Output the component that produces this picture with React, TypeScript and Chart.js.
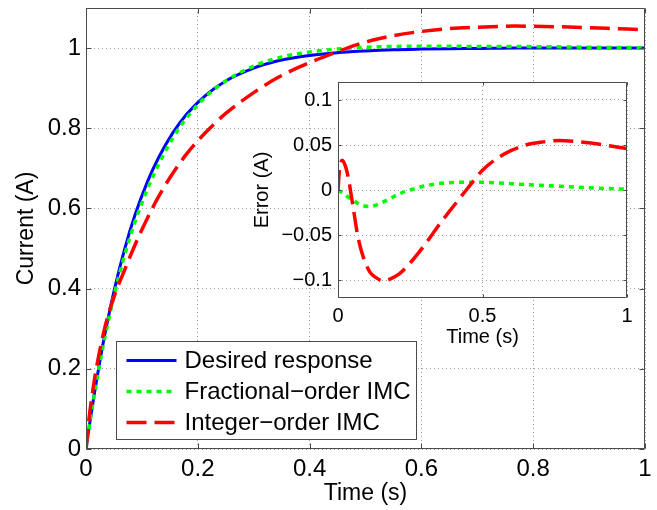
import React, { useEffect, useRef } from 'react';
import { Chart, registerables } from 'chart.js';

Chart.register(...registerables);

// ---- data ----
const time = [0, 0.005, 0.015, 0.025, 0.035, 0.052, 0.069, 0.087, 0.11, 0.13, 0.155, 0.18, 0.213, 0.25, 0.3, 0.34, 0.38, 0.444, 0.5, 0.55, 0.6, 0.65, 0.7, 0.767, 0.8, 0.85, 0.9, 0.95, 1];
const desiredResponse = [0, 0.049, 0.139, 0.221, 0.295, 0.405, 0.498, 0.581, 0.667, 0.727, 0.788, 0.835, 0.881, 0.918, 0.95, 0.967, 0.978, 0.988, 0.993, 0.996, 0.9975, 0.9985, 0.999, 1, 1, 1, 1, 1, 1];
const fractionalResponse = [0, 0.048, 0.136, 0.216, 0.287, 0.394, 0.483, 0.564, 0.649, 0.71, 0.775, 0.826, 0.877, 0.918, 0.955, 0.974, 0.986, 0.997, 1.002, 1.004, 1.0045, 1.0045, 1.004, 1.004, 1.0036, 1.003, 1.002, 1.0014, 1.001];
const integerResponse = [0, 0.071, 0.172, 0.248, 0.31, 0.387, 0.446, 0.507, 0.576, 0.63, 0.687, 0.736, 0.788, 0.837, 0.889, 0.924, 0.952, 0.988, 1.015, 1.031, 1.0415, 1.0485, 1.052, 1.055, 1.0545, 1.053, 1.051, 1.0485, 1.046];
const fractionalError = [0, -0.001, -0.003, -0.005, -0.008, -0.011, -0.015, -0.0175, -0.0185, -0.017, -0.0135, -0.0095, -0.004, 0, 0.0045, 0.0068, 0.008, 0.0087, 0.0085, 0.0078, 0.007, 0.006, 0.0052, 0.0042, 0.0036, 0.0028, 0.002, 0.0014, 0.001];
const integerError = [0, 0.022, 0.033, 0.027, 0.0148, -0.0185, -0.052, -0.074, -0.091, -0.097, -0.101, -0.099, -0.093, -0.081, -0.061, -0.043, -0.026, 0, 0.022, 0.035, 0.044, 0.05, 0.053, 0.055, 0.0545, 0.053, 0.051, 0.0485, 0.046];

const seriesLabels = ['Desired response', 'Fractional\u2212order IMC', 'Integer\u2212order IMC'];

const mainXTicks = [0, 0.2, 0.4, 0.6, 0.8, 1];
const mainYTicks = [0, 0.2, 0.4, 0.6, 0.8, 1];
const insetXTicks = [0, 0.5, 1];
const insetYTicks = [-0.1, -0.05, 0, 0.05, 0.1];

const mainXTitle = 'Time (s)';
const mainYTitle = 'Current (A)';
const insetXTitle = 'Time (s)';
const insetYTitle = 'Error (A)';

// ---- styles ----
const FONT = "'Liberation Sans', Arial, Helvetica, sans-serif";
const FRAME = '#4a4a4a';
const GRID = '#a0a0a0';
const BLUE = '#0000ff';
const GREEN = '#00ff00';
const RED = '#ff0000';
const GREEN_DASH = [5, 5];
const RED_DASH = [20, 8];

const fmt = (v: number) => String(v).replace('-', '\u2212');

function pts(xs: number[], ys: number[]) {
  return xs.map((x, i) => ({ x, y: ys[i] }));
}

function framePlugin(tickLen: number, fillWhite: boolean) {
  return {
    id: 'frame' + tickLen,
    beforeDraw(chart: any) {
      if (!fillWhite) return;
      const { ctx, chartArea: a } = chart;
      ctx.save();
      ctx.fillStyle = '#ffffff';
      ctx.fillRect(a.left, a.top, a.right - a.left, a.bottom - a.top);
      ctx.restore();
    },
    afterDraw(chart: any) {
      const { ctx, chartArea: a, scales } = chart;
      ctx.save();
      ctx.strokeStyle = FRAME;
      ctx.lineWidth = 1;
      ctx.setLineDash([]);
      const L = Math.round(a.left) + 0.5;
      const R = Math.round(a.right) - 0.5;
      const T = Math.round(a.top) + 0.5;
      const B = Math.round(a.bottom) - 0.5;
      ctx.beginPath();
      ctx.rect(L, T, R - L, B - T);
      scales.x.ticks.forEach((t: any) => {
        const p = Math.round(scales.x.getPixelForValue(t.value)) + 0.5;
        ctx.moveTo(p, B); ctx.lineTo(p, B - tickLen);
        ctx.moveTo(p, T); ctx.lineTo(p, T + tickLen);
      });
      scales.y.ticks.forEach((t: any) => {
        const p = Math.round(scales.y.getPixelForValue(t.value)) + 0.5;
        ctx.moveTo(L, p); ctx.lineTo(L + tickLen, p);
        ctx.moveTo(R, p); ctx.lineTo(R - tickLen, p);
      });
      ctx.stroke();
      ctx.restore();
    },
  };
}

const legendPlugin = {
  id: 'insideLegend',
  afterDraw(chart: any) {
    const { ctx, chartArea: a } = chart;
    const ds = chart.data.datasets;
    ctx.save();
    ctx.font = `24px ${FONT}`;
    const maxW = Math.max(...ds.map((d: any) => ctx.measureText(d.label).width));
    const w = Math.round(68 + maxW + 6);
    const h = 98;
    const x0 = Math.round(a.left + 30) + 0.5;
    const y0 = Math.round(a.bottom - 10 - h) + 0.5;
    ctx.fillStyle = '#ffffff';
    ctx.fillRect(x0, y0, w, h);
    ctx.strokeStyle = FRAME;
    ctx.lineWidth = 1;
    ctx.strokeRect(x0, y0, w, h);
    ds.forEach((d: any, i: number) => {
      const cy = y0 + 19 + i * 31;
      ctx.beginPath();
      ctx.strokeStyle = d.borderColor;
      ctx.lineWidth = d.borderWidth;
      ctx.setLineDash(d.borderDash || []);
      ctx.lineCap = 'butt';
      ctx.moveTo(x0 + 10, cy);
      ctx.lineTo(x0 + 60, cy);
      ctx.stroke();
      ctx.setLineDash([]);
      ctx.fillStyle = '#000';
      ctx.textBaseline = 'middle';
      ctx.textAlign = 'left';
      ctx.fillText(d.label, x0 + 68, cy + 1);
    });
    ctx.restore();
  },
};

function linearAxis(opts: {
  ticks: number[]; min: number; max: number; size: number; fontSize: number; titleSize: number;
  tickPad: number; title: string; titlePad: any; horizontal: boolean;
}) {
  const font = { family: FONT, size: opts.fontSize };
  const tfont = { family: FONT, size: opts.titleSize };
  return {
    type: 'linear',
    min: opts.min,
    max: opts.max,
    afterBuildTicks: (s: any) => { s.ticks = opts.ticks.map((v) => ({ value: v })); },
    afterFit: (s: any) => {
      if (opts.horizontal) s.height = opts.size; else s.width = opts.size;
      s.paddingTop = 0; s.paddingBottom = 0; s.paddingLeft = 0; s.paddingRight = 0;
    },
    grid: { color: GRID, lineWidth: 1, drawTicks: false },
    border: { display: false, dash: [1, 3] },
    ticks: {
      padding: opts.tickPad,
      font,
      color: '#000',
      maxRotation: 0,
      autoSkip: false,
      callback: (v: any) => fmt(v),
    },
    title: { display: true, text: opts.title, font: tfont, color: '#000', padding: opts.titlePad },
  };
}

export default function App() {
  const mainRef = useRef<HTMLCanvasElement>(null);
  const insetRef = useRef<HTMLCanvasElement>(null);

  useEffect(() => {
    const common = {
      responsive: false,
      animation: false,
      devicePixelRatio: 1,
      events: [],
      elements: { point: { radius: 0 }, line: { cubicInterpolationMode: 'monotone', borderCapStyle: 'butt' } },
    };

    const main = new Chart(mainRef.current as HTMLCanvasElement, {
      type: 'line',
      data: {
        datasets: [
          { label: seriesLabels[0], data: pts(time, desiredResponse), borderColor: BLUE, borderWidth: 3, borderDash: [], order: 3, fill: false },
          { label: seriesLabels[1], data: pts(time, fractionalResponse), borderColor: GREEN, borderWidth: 3.5, borderDash: GREEN_DASH, order: 2, fill: false },
          { label: seriesLabels[2], data: pts(time, integerResponse), borderColor: RED, borderWidth: 3.5, borderDash: RED_DASH, order: 1, fill: false },
        ],
      },
      options: {
        ...common,
        layout: { padding: { left: 0, right: 12, top: 8, bottom: 0 } },
        plugins: { legend: { display: false }, tooltip: { enabled: false } },
        scales: {
          x: linearAxis({ ticks: mainXTicks, min: 0, max: 1, size: 61, fontSize: 24, titleSize: 23, tickPad: 6, title: mainXTitle, titlePad: { top: 0, bottom: 3 }, horizontal: true }),
          y: linearAxis({ ticks: mainYTicks, min: 0, max: 1.1, size: 86, fontSize: 24, titleSize: 23, tickPad: 5, title: mainYTitle, titlePad: { top: 13, bottom: 0 }, horizontal: false }),
        },
      } as any,
      plugins: [framePlugin(5, false), legendPlugin],
    } as any);

    const inset = new Chart(insetRef.current as HTMLCanvasElement, {
      type: 'line',
      data: {
        datasets: [
          { label: seriesLabels[1], data: pts(time, fractionalError), borderColor: GREEN, borderWidth: 3.5, borderDash: GREEN_DASH, order: 2, fill: false },
          { label: seriesLabels[2], data: pts(time, integerError), borderColor: RED, borderWidth: 3.5, borderDash: RED_DASH, order: 1, fill: false },
        ],
      },
      options: {
        ...common,
        layout: { padding: { left: 0, right: 13, top: 7, bottom: 0 } },
        plugins: { legend: { display: false }, tooltip: { enabled: false } },
        scales: {
          x: linearAxis({ ticks: insetXTicks, min: 0, max: 1, size: 52, fontSize: 20, titleSize: 20, tickPad: 6, title: insetXTitle, titlePad: { top: 0, bottom: 1 }, horizontal: true }),
          y: linearAxis({ ticks: insetYTicks, min: -0.12, max: 0.12, size: 98, fontSize: 20, titleSize: 20, tickPad: 6, title: insetYTitle, titlePad: { top: 10, bottom: 0 }, horizontal: false }),
        },
      } as any,
      plugins: [framePlugin(3, true)],
    } as any);

    return () => {
      main.destroy();
      inset.destroy();
    };
  }, []);

  return (
    <div style={{ position: 'absolute', left: 0, top: 0, width: 657, height: 510, background: '#ffffff' }}>
      <canvas ref={mainRef} width={657} height={510} style={{ position: 'absolute', left: 0, top: 0 }} />
      <canvas ref={insetRef} width={400} height={275} style={{ position: 'absolute', left: 240, top: 75 }} />
    </div>
  );
}
